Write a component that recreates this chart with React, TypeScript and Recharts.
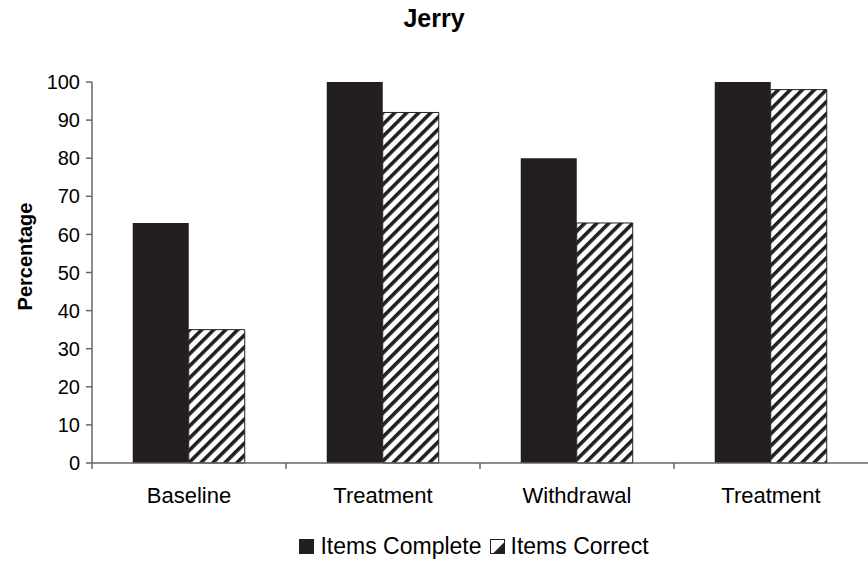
import { BarChart, Bar, XAxis, YAxis, Label } from 'recharts';

const phases = ['Baseline', 'Treatment', 'Withdrawal', 'Treatment'];
const itemsComplete = [63, 100, 80, 100];
const itemsCorrect = [35, 92, 63, 98];
const percentTicks = [0, 10, 20, 30, 40, 50, 60, 70, 80, 90, 100];

const data = phases.map((phase, i) => ({
  phase,
  complete: itemsComplete[i],
  correct: itemsCorrect[i],
}));

const W = 868;
const H = 566;
const FONT = '"Liberation Sans", Arial, sans-serif';
const INK = '#231f20';
const AXIS = '#666';

// category labels centred in each band, with Excel-style tick marks on the band edges
const PhaseTick = (props: any) => {
  const { x, y, payload, width, visibleTicksCount } = props;
  const band = width / visibleTicksCount;
  const left = x - band / 2;
  return (
    <g>
      <line x1={left} x2={left} y1={y} y2={y + 6} stroke={AXIS} strokeWidth={1.5} />
      <text x={x} y={y + 40} textAnchor="middle" fontSize={22} fill="#000" fontFamily={FONT}>
        {payload.value}
      </text>
    </g>
  );
};

const PercentLabel = ({ viewBox }: any) => {
  const cx = 25;
  const cy = viewBox.y + viewBox.height / 2 - 16;
  return (
    <text
      x={cx}
      y={cy}
      transform={`rotate(-90 ${cx} ${cy})`}
      textAnchor="middle"
      dominantBaseline="central"
      fontSize={20}
      fontWeight="bold"
      fontFamily={FONT}
      fill="#000"
    >
      Percentage
    </text>
  );
};

const LegendKey = () => (
  <div
    style={{
      position: 'absolute',
      top: 533,
      left: 0,
      width: W,
      display: 'flex',
      justifyContent: 'center',
      alignItems: 'center',
      fontFamily: FONT,
      fontSize: 23,
      color: '#000',
      paddingLeft: 80,
      boxSizing: 'border-box',
    }}
  >
    <svg width={15} height={15} style={{ marginRight: 6 }}>
      <rect x={0} y={0} width={15} height={15} fill={INK} />
    </svg>
    <span style={{ marginRight: 8 }}>Items Complete</span>
    <svg width={15} height={15} style={{ marginRight: 6 }}>
      <rect x={0.5} y={0.5} width={14} height={14} fill="#fff" stroke={INK} />
      <polygon points="14.5,3 14.5,14.5 3,14.5" fill={INK} />
    </svg>
    <span>Items Correct</span>
  </div>
);

export default function App() {
  return (
    <div style={{ position: 'absolute', left: 0, top: 0, width: W, height: H, background: '#fff' }}>
      <div
        style={{
          position: 'absolute',
          top: 4,
          left: 0,
          width: W,
          textAlign: 'center',
          fontFamily: FONT,
          fontWeight: 'bold',
          fontSize: 25,
          color: '#000',
        }}
      >
        Jerry
      </div>
      <BarChart
        width={W}
        height={H}
        data={data}
        margin={{ top: 82, right: 0, left: 0, bottom: 43 }}
        barCategoryGap="21%"
        barGap={0}
      >
        <defs>
          <pattern
            id="diagHatch"
            width={8.5}
            height={8.5}
            patternUnits="userSpaceOnUse"
            patternTransform="rotate(45)"
          >
            <rect width={8.5} height={8.5} fill="#fff" />
            <rect x={0} y={0} width={3.6} height={8.5} fill={INK} />
          </pattern>
        </defs>
        <XAxis
          dataKey="phase"
          height={60}
          tickSize={0}
          tickMargin={0}
          tickLine={false}
          interval={0}
          axisLine={{ stroke: AXIS, strokeWidth: 1.5 }}
          tick={<PhaseTick />}
        />
        <YAxis
          width={92}
          domain={[0, 100]}
          ticks={percentTicks}
          interval={0}
          tickSize={6}
          tickMargin={6}
          axisLine={{ stroke: AXIS, strokeWidth: 1.5 }}
          tickLine={{ stroke: AXIS, strokeWidth: 1.5 }}
          tick={{ fill: '#000', fontSize: 20, fontFamily: FONT }}
        >
          <Label content={<PercentLabel />} />
        </YAxis>
        <Bar dataKey="complete" name="Items Complete" fill={INK} isAnimationActive={false} />
        <Bar
          dataKey="correct"
          name="Items Correct"
          fill="url(#diagHatch)"
          stroke={INK}
          strokeWidth={1}
          isAnimationActive={false}
        />
      </BarChart>
      <LegendKey />
    </div>
  );
}
